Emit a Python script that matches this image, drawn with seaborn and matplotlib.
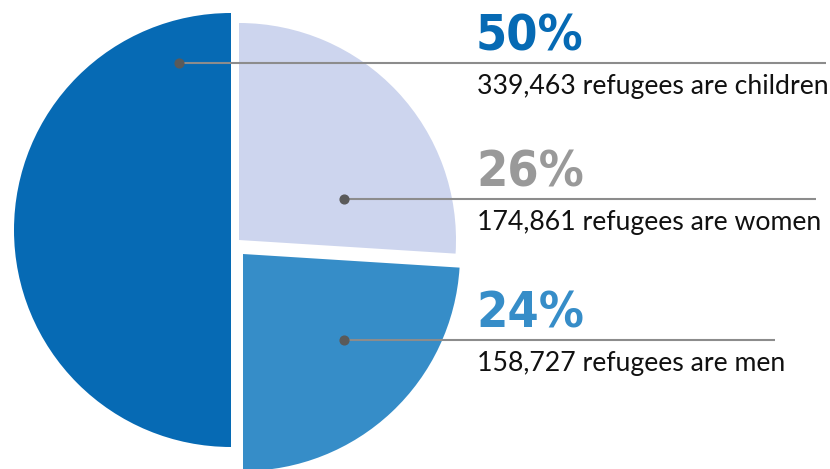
import seaborn as sns
import matplotlib.pyplot as plt

# data
groups = ["children", "women", "men"]
shares = [50, 26, 24]
counts = ["339,463", "174,861", "158,727"]
colors = ["#066ab4", "#cdd5ee", "#368dc8"]
pct_colors = ["#066ab4", "#999999", "#368dc8"]

H = 469

sns.set_theme(style="white")

fig = plt.figure(figsize=(8.3, 4.69), dpi=100)
ax = fig.add_axes([0, 0, 1, 1])

wedges, _ = ax.pie(shares, colors=colors, startangle=270, counterclock=False,
                   radius=217, center=(236, H - 235), frame=False,
                   wedgeprops=dict(linewidth=0))

# each slice is nudged a bit on its own (pixel coords, y from top)
centers = [(231, 230), (239, 240), (243, 254)]
for w, (cx, cy) in zip(wedges, centers):
    w.set_center((cx, H - cy))

pct_font = ["Noto Sans ExtraCondensed", "Noto Sans Condensed",
            "DejaVu Sans Condensed", "Liberation Sans Narrow", "DejaVu Sans"]

# leader lines + labels
dots = [(179, 63), (344, 199), (344, 340)]
line_ends = [826, 816, 775]
for (dx, dy), xe, s, n, g, pc in zip(dots, line_ends, shares, counts, groups, pct_colors):
    ax.plot([dx, xe], [H - dy, H - dy], color="#8c8c8c", lw=1.5, solid_capstyle="butt")
    ax.plot(dx, H - dy, "o", ms=6.3, color="#5a5a5a")
    ax.text(476, H - (dy - 13), f"{s}%", color=pc, fontsize=36, fontweight="bold",
            fontstretch="condensed", family=pct_font, va="baseline", ha="left")
    ax.text(477, H - (dy + 31), f"{n} refugees are {g}", color="#111111", fontsize=19.2,
            family=["Lato", "DejaVu Sans"], va="baseline", ha="left")

ax.set_xlim(0, 830)
ax.set_ylim(0, H)
ax.set_aspect("equal")
ax.axis("off")

fig.savefig("out.png", dpi=100)
